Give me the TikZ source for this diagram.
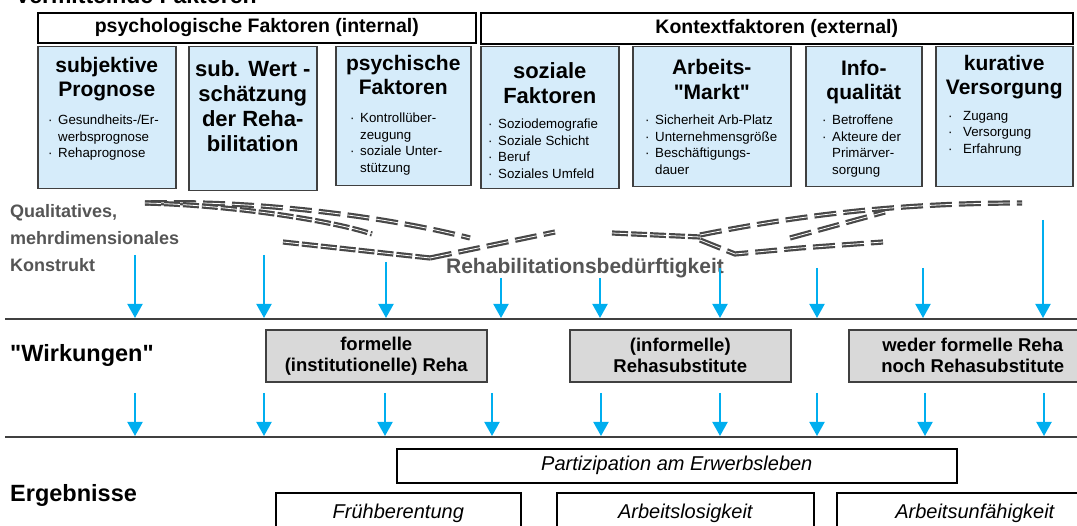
\documentclass[tikz,border=0pt]{standalone}
\usepackage{fontspec}
\setmainfont{Liberation Sans}
\usetikzlibrary{arrows.meta,positioning}

\definecolor{kastenblau}{RGB}{214,236,250}
\definecolor{kastengrau}{RGB}{217,217,217}
\definecolor{rand}{RGB}{64,64,64}
\definecolor{pfeilblau}{RGB}{0,174,239}
\definecolor{textgrau}{RGB}{85,85,85}
\definecolor{strich}{RGB}{72,72,72}

\newcommand{\pkt}{\makebox[10pt][l]{·}}
\newcommand{\ein}{\hspace*{10pt}}

\begin{document}
\begin{tikzpicture}[
  x=1pt, y=-1pt,
  kopf/.style={draw=black, line width=1.6pt, anchor=north west, inner sep=0pt,
    font=\bfseries\fontsize{19.5}{24}\selectfont},
  faktor/.style={draw=rand, fill=kastenblau, line width=1.5pt, anchor=north west, inner sep=0pt},
  titel/.style={align=center, inner sep=0pt, anchor=north,
    font=\bfseries\fontsize{21}{24}\selectfont},
  punkte/.style={align=left, inner sep=0pt, anchor=north west,
    font=\fontsize{13.3}{16.5}\selectfont},
  wirkung/.style={draw=rand, fill=kastengrau, line width=1.6pt, anchor=north west,
    inner sep=0pt, align=center, font=\bfseries\fontsize{18.5}{21}\selectfont},
  ergebnis/.style={draw=black, line width=1.6pt, anchor=north west, inner sep=0pt,
    font=\itshape\fontsize{20}{24}\selectfont},
  seite/.style={anchor=west, inner sep=0pt, font=\bfseries\fontsize{23.5}{27}\selectfont},
  pfeil/.style={draw=pfeilblau, line width=2pt, -{Triangle[width=15pt,length=14pt]}},
  klammer/.style={draw=strich, line width=2.2pt, double=white, double distance=0.8pt,
    dash pattern=on 22pt off 7pt},
  dicht/.style={klammer, dash pattern=on 16pt off 3pt},
]
\useasboundingbox (0,0) rectangle (1077,526);

\node[anchor=base west, inner sep=0pt, font=\bfseries\fontsize{23}{27}\selectfont]
  (vermittelnd) at (15,4) {Vermittelnde Faktoren};

% Faktorengruppen
\node[kopf, minimum width=438pt, minimum height=30pt] (intern) at (37,12)
  {psychologische Faktoren (internal)};
\node[kopf, minimum width=592pt, minimum height=31pt] (extern) at (480,12)
  {Kontextfaktoren (external)};

\node[faktor, minimum width=138pt, minimum height=142pt] (prognose) at (37,46) {};
\node[faktor, minimum width=128pt, minimum height=144pt] (wert) at (188,46) {};
\node[faktor, minimum width=135pt, minimum height=139pt] (psych) at (335,46) {};
\node[faktor, minimum width=138pt, minimum height=142pt] (sozial) at (480,46) {};
\node[faktor, minimum width=158pt, minimum height=140pt] (markt) at (632,46) {};
\node[faktor, minimum width=116pt, minimum height=140pt] (info) at (805,46) {};
\node[faktor, minimum width=137pt, minimum height=140pt] (kurativ) at (935,46) {};

\node[titel, below=11pt of prognose.north] {subjektive\\Prognose};
\node[titel, below=14pt of wert.north, font=\bfseries\fontsize{22}{25}\selectfont]
  {sub. Wert -\\schätzung\\der Reha-\\bilitation};
\node[titel, below=9pt of psych.north] {psychische\\Faktoren};
\node[titel, below=16pt of sozial.north, font=\bfseries\fontsize{22}{25}\selectfont]
  {soziale\\Faktoren};
\node[titel, below=13pt of markt.north, font=\bfseries\fontsize{21}{25}\selectfont]
  {Arbeits-\\\textquotedbl Markt\textquotedbl};
\node[titel, below=14pt of info.north] {Info-\\qualität};
\node[titel, below=9pt of kurativ.north] {kurative\\Versorgung};

\node[punkte] at (48,115) {\pkt Gesundheits-/Er-\\\ein werbsprognose\\\pkt Rehaprognose};
\node[punkte] at (350,113) {\pkt Kontrollüber-\\\ein zeugung\\\pkt soziale Unter-\\\ein stützung};
\node[punkte] at (488,119) {\pkt Soziodemografie\\\pkt Soziale Schicht\\\pkt Beruf\\\pkt Soziales Umfeld};
\node[punkte] at (645,115) {\pkt Sicherheit Arb-Platz\\\pkt Unternehmensgröße\\\pkt Beschäftigungs-\\\ein dauer};
\node[punkte] at (822,115) {\pkt Betroffene\\\pkt Akteure der\\\ein Primärver-\\\ein sorgung};
\node[punkte] at (948,111) {\makebox[15pt][l]{·}Zugang\\\makebox[15pt][l]{·}Versorgung\\\makebox[15pt][l]{·}Erfahrung};

% Konstrukt
\node[anchor=north west, inner sep=0pt, align=left, text=textgrau,
  font=\bfseries\fontsize{18}{27}\selectfont] (konstrukt) at (10,204)
  {Qualitatives,\\mehrdimensionales\\Konstrukt};

\draw[klammer] (145,203) .. controls (250,200) and (380,215) .. (470,238);
\draw[dicht] (145,203) .. controls (230,205) and (330,220) .. (372,234);
\draw[dicht] (283,242) -- (430,258);
\draw[klammer] (430,258) -- (555,232);
\draw[dicht] (612,233) -- (700,237);
\draw[klammer] (700,235) .. controls (800,215) and (900,203) .. (1022,203);
\draw[klammer] (700,240) -- (735,254) -- (800,248) -- (883,242);
\draw[klammer] (790,238) -- (885,212);

\node[inner sep=0pt, text=textgrau, font=\bfseries\fontsize{21}{24}\selectfont]
  (bedarf) at (585,268) {Rehabilitationsbedürftigkeit};

% Ebenen
\coordinate (e1l) at (5,319);
\coordinate (e1r) at (1077,319);
\coordinate (e2l) at (5,437);
\coordinate (e2r) at (1077,437);
\draw[rand, line width=2pt] (e1l) -- (e1r);
\draw[rand, line width=2pt] (e2l) -- (e2r);

\foreach \x/\y [count=\i] in {135/255,264/255,386/262,501/278,600/278,720/268,817/268,923/268,1043/220}{
  \coordinate (o\i) at (\x,\y);
  \coordinate (u\i) at (\x,318);
  \draw[pfeil] (o\i) -- (u\i);
}

\node[seite] (wirkungen) at (10,355) {\textquotedbl Wirkungen\textquotedbl};
\node[wirkung, minimum width=221pt, minimum height=52pt] (formell) at (265,329)
  {formelle\\(institutionelle) Reha};
\node[wirkung, minimum width=221pt, minimum height=52pt] (informell) at (569,329)
  {(informelle)\\Rehasubstitute};
\node[wirkung, minimum width=248pt, minimum height=52pt] (weder) at (848,329)
  {weder formelle Reha\\noch Rehasubstitute};

\foreach \x [count=\i] in {135,264,385,492,601,720,817,925,1044}{
  \coordinate (p\i) at (\x,393);
  \coordinate (q\i) at (\x,436);
  \draw[pfeil] (p\i) -- (q\i);
}

% Ergebnisse
\node[seite] (ergebnisse) at (10,495) {Ergebnisse};
\node[ergebnis, minimum width=560pt, minimum height=34pt] (teilhabe) at (396,448)
  {Partizipation am Erwerbsleben};
\node[ergebnis, minimum width=245pt, minimum height=42pt] (rente) at (275,492)
  {Frühberentung};
\node[ergebnis, minimum width=257pt, minimum height=42pt] (arbeitslos) at (556,492)
  {Arbeitslosigkeit};
\node[ergebnis, minimum width=276pt, minimum height=42pt] (unfaehig) at (836,492)
  {Arbeitsunfähigkeit};
\end{tikzpicture}
\end{document}
